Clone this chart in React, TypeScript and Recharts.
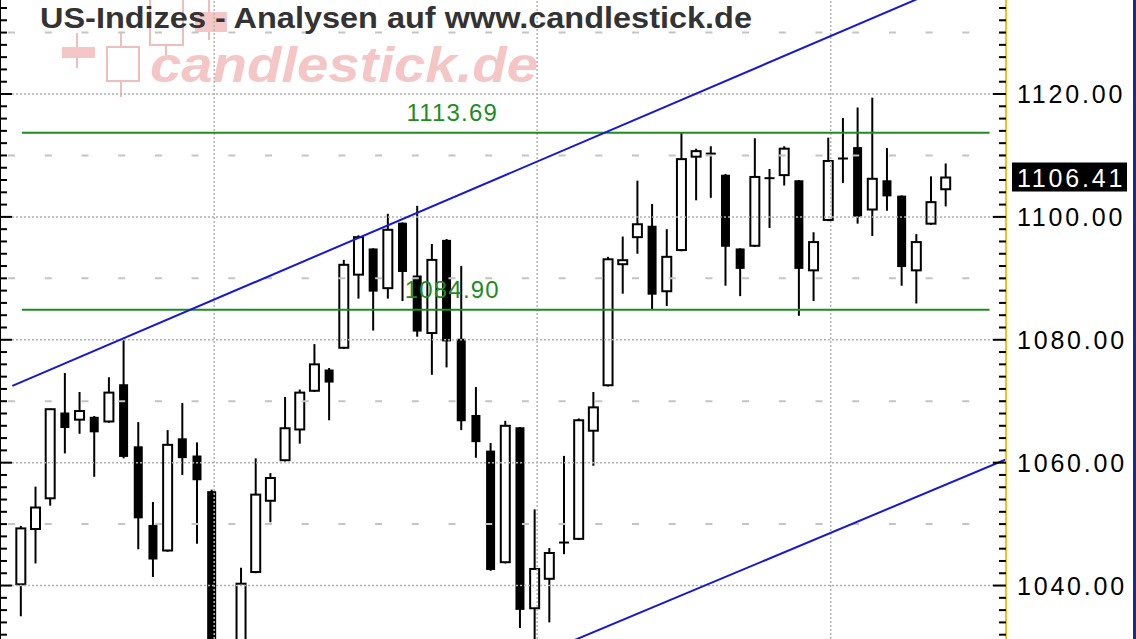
import React from 'react';
import {
  ComposedChart,
  Bar,
  XAxis,
  YAxis,
  ReferenceLine,
  ReferenceDot,
} from 'recharts';

// daily candles (index 14 lies below the visible range)
const opens = [
  1040.2, 1049.2, 1054.2, 1068.0, 1067.0, 1067.3, 1066.7, 1072.6, 1062.5, 1049.7,
  1045.7, 1063.8, 1061.0, 1055.2, null, 1028.0, 1042.2, 1053.8, 1060.4, 1065.4,
  1071.7, 1075.0, 1078.7, 1090.6, 1094.7, 1088.4, 1098.9, 1090.3, 1081.1, 1096.1,
  1080.0, 1067.6, 1061.8, 1043.8, 1065.6, 1036.3, 1041.1, 1046.8, 1047.6, 1065.2,
  1072.6, 1092.3, 1096.7, 1098.4, 1087.9, 1094.6, 1109.8, 1110.3, 1106.7, 1094.7,
  1095.3, 1106.0, 1106.8, 1105.8, 1091.3, 1099.5, 1109.3, 1111.2, 1101.2, 1105.8,
  1103.3, 1091.3, 1098.9, 1104.5,
];
const highs = [
  1049.7, 1056.1, 1068.8, 1074.6, 1071.5, 1067.6, 1073.9, 1079.9, 1066.6, 1053.6,
  1065.3, 1069.7, 1063.3, 1055.6, null, 1042.9, 1060.7, 1058.3, 1070.7, 1071.9,
  1079.3, 1075.4, 1093.0, 1097.0, 1094.9, 1100.5, 1099.1, 1101.8, 1095.6, 1096.4,
  1092.0, 1072.3, 1063.2, 1066.8, 1065.8, 1052.4, 1046.1, 1061.1, 1067.2, 1071.5,
  1093.5, 1096.8, 1105.9, 1102.1, 1098.0, 1113.7, 1111.1, 1111.5, 1107.0, 1094.9,
  1112.8, 1107.8, 1111.5, 1106.0, 1097.5, 1112.9, 1116.1, 1117.8, 1119.4, 1111.2,
  1103.5, 1097.2, 1106.6, 1108.7,
];
const lows = [
  1035.0, 1043.6, 1053.0, 1061.5, 1064.7, 1057.7, 1066.5, 1060.7, 1045.9, 1041.4,
  1045.5, 1058.0, 1046.8, 1026.0, null, 1025.0, 1042.0, 1050.3, 1060.2, 1063.1,
  1071.5, 1066.9, 1078.5, 1086.7, 1081.5, 1086.7, 1086.3, 1080.5, 1074.3, 1075.5,
  1065.3, 1060.8, 1042.4, 1043.6, 1033.1, 1029.0, 1034.0, 1045.1, 1047.4, 1059.5,
  1072.4, 1087.5, 1094.0, 1084.9, 1085.5, 1094.4, 1102.7, 1103.1, 1088.8, 1087.1,
  1095.1, 1098.2, 1105.1, 1083.9, 1086.3, 1099.3, 1105.5, 1098.9, 1096.9, 1101.0,
  1088.8, 1085.9, 1098.7, 1101.7,
];
const closes = [
  1049.3, 1052.7, 1068.7, 1065.8, 1068.4, 1065.1, 1071.4, 1061.1, 1051.1, 1044.4,
  1062.9, 1060.9, 1057.3, 1028.0, null, 1040.3, 1054.8, 1057.5, 1065.6, 1071.4,
  1076.0, 1073.2, 1092.2, 1096.7, 1088.0, 1097.9, 1091.2, 1081.5, 1093.0, 1079.9,
  1066.9, 1063.5, 1042.7, 1066.0, 1036.2, 1042.7, 1045.3, 1047.0, 1066.9, 1069.0,
  1093.1, 1092.95, 1098.8, 1087.5, 1093.5, 1109.4, 1110.7, 1110.2, 1095.3, 1091.7,
  1106.5, 1106.3, 1111.1, 1091.7, 1095.9, 1109.1, 1109.5, 1100.2, 1106.2, 1103.5,
  1092.0, 1095.9, 1102.4, 1106.41,
];

const lastClose = 1106.41;
const levels = [1113.69, 1084.9];
const labelTicks = [1040, 1060, 1080, 1100, 1120];
const halfLevels = [1050, 1070, 1090, 1110, 1130];
const monthStarts = [13, 35, 55];

// trend channel, endpoints as [candle index, price]
const upperChannel = [
  { x: -0.57, y: 1072.5 },
  { x: 62, y: 1136.4 },
];
const lowerChannel = [
  { x: 36, y: 1029.4 },
  { x: 68, y: 1061.4 },
];

const Y_DOMAIN: [number, number] = [1031.3, 1135.3];
const minorTicks = Array.from({ length: 52 }, (_, k) => 1032 + k * 2);

const candles = opens.map((o, i) => ({
  i,
  open: o,
  high: highs[i],
  low: lows[i],
  close: closes[i],
  range: o == null ? null : [lows[i], highs[i]],
}));

const GREEN = '#1f8c1f';
const BLUE = '#1818d0';
const FONT = "'Liberation Sans', Arial, sans-serif";

const Candle = (props: any) => {
  const { x, y, width, height, payload } = props;
  if (!payload || payload.open == null || !height) return <g />;
  const { open, high, low, close } = payload;
  const cx = x + width / 2;
  const ppu = height / (high - low);
  const yOf = (v: number) => y + (high - v) * ppu;
  const top = yOf(Math.max(open, close));
  const bottom = yOf(Math.min(open, close));
  const up = close >= open;
  const doji = Math.abs(close - open) < 0.4;
  return (
    <g>
      <line x1={cx} x2={cx} y1={y} y2={y + height} stroke="#000" strokeWidth={2} />
      {doji ? (
        <line x1={cx - 5} x2={cx + 5} y1={top} y2={top} stroke="#000" strokeWidth={2} />
      ) : up ? (
        <rect x={cx - 4.5} y={top} width={9} height={bottom - top} fill="#fff" stroke="#000" strokeWidth={2} />
      ) : (
        <rect x={cx - 4.5} y={top - 1} width={9} height={bottom - top + 2} fill="#000" />
      )}
    </g>
  );
};

const RightTick = (props: any) => {
  const { x, y, payload } = props;
  const major = labelTicks.includes(payload.value);
  return (
    <g>
      <line x1={x - (major ? 13 : 7)} x2={x} y1={y} y2={y} stroke="#000" strokeWidth={2} />
      {major && (
        <text
          x={x + 11}
          y={y}
          dominantBaseline="central"
          fontSize={25}
          letterSpacing={2.8}
          fontFamily={FONT}
          fill="#000"
        >
          {payload.value.toFixed(2)}
        </text>
      )}
    </g>
  );
};

const LeftTick = (props: any) => {
  const { x, y, payload } = props;
  const major = labelTicks.includes(payload.value);
  return <line x1={x} x2={x + (major ? 12 : 7)} y1={y} y2={y} stroke="#000" strokeWidth={2} />;
};

const PriceTag = (props: any) => {
  const vb = props.viewBox;
  if (!vb) return null;
  const x0 = vb.x + vb.width + 6;
  return (
    <g>
      <rect x={x0} y={vb.y - 15} width={115} height={29} fill="#000" />
      <text
        x={x0 + 5}
        y={vb.y}
        dominantBaseline="central"
        fontSize={25}
        letterSpacing={2.8}
        fontFamily={FONT}
        fill="#fff"
      >
        {lastClose.toFixed(2)}
      </text>
    </g>
  );
};

const levelLabel = (value: number) => (props: any) => {
  const vb = props.viewBox;
  if (!vb) return null;
  return (
    <text
      x={vb.x + vb.width / 2}
      y={vb.y - 12}
      textAnchor="middle"
      fontSize={24}
      letterSpacing={1.2}
      fontFamily={FONT}
      fill={GREEN}
    >
      {value.toFixed(2)}
    </text>
  );
};

const Watermark = () => (
  <svg width={1136} height={639} style={{ position: 'absolute', left: 0, top: 0 }}>
    <g fill="#f4c6c6" stroke="#f1bcbc">
      <line x1={77} x2={77} y1={33} y2={68} strokeWidth={2} />
      <rect x={62} y={47} width={33} height={11} strokeWidth={0} />
      <line x1={121} x2={121} y1={33} y2={97} strokeWidth={2} />
      <rect x={107} y={47} width={32} height={34} fill="#fff" strokeWidth={2} />
      <line x1={166} x2={166} y1={0} y2={55} strokeWidth={2} />
      <rect x={150} y={-4} width={33} height={49} fill="#fff" strokeWidth={2} />
      <line x1={209} x2={209} y1={0} y2={40} strokeWidth={2} />
      <rect x={195} y={12} width={32} height={20} strokeWidth={0} />
    </g>
    <text
      x={150}
      y={82}
      fontSize={50}
      fontStyle="italic"
      fontWeight="bold"
      fontFamily={FONT}
      fill="#f4c6c6"
      textLength={388}
      lengthAdjust="spacingAndGlyphs"
    >
      candlestick.de
    </text>
  </svg>
);

const Title = () => (
  <svg width={1136} height={639} style={{ position: 'absolute', left: 0, top: 0, pointerEvents: 'none' }}>
    <text
      x={40}
      y={28}
      fontSize={30}
      fontWeight="bold"
      fontFamily="'Liberation Sans Narrow', 'Liberation Sans', Arial, sans-serif"
      fill="#333"
      textLength={712}
      lengthAdjust="spacingAndGlyphs"
    >
      US-Indizes - Analysen auf www.candlestick.de
    </text>
    <rect x={1133} y={0} width={3} height={639} fill="#1c2a8c" />
  </svg>
);

export default function App() {
  return (
    <div style={{ position: 'relative', width: 1136, height: 639, background: '#fff', overflow: 'hidden' }}>
      <style>{'body{margin:0}'}</style>
      <Watermark />
      <div style={{ position: 'absolute', left: 0, top: 0 }}>
        <ComposedChart width={1136} height={639} data={candles} margin={{ top: 0, right: 0, bottom: 0, left: 0 }}>
          <XAxis xAxisId="c" dataKey="i" type="category" hide padding={{ left: 13.36, right: 53.1 }} />
          <XAxis
            xAxisId="n"
            dataKey="i"
            type="number"
            domain={['dataMin', 'dataMax']}
            padding={{ left: 20.7, right: 60.5 }}
            hide
          />
          <YAxis
            yAxisId="r"
            orientation="right"
            width={130}
            domain={Y_DOMAIN}
            allowDataOverflow
            ticks={minorTicks}
            interval={0}
            tickSize={0}
            tickMargin={0}
            tickLine={false}
            axisLine={{ stroke: '#f2c21b', strokeWidth: 2 }}
            tick={<RightTick />}
          />
          <YAxis
            yAxisId="l"
            orientation="left"
            mirror
            domain={Y_DOMAIN}
            allowDataOverflow
            ticks={minorTicks}
            interval={0}
            tickSize={0}
            tickMargin={0}
            tickLine={false}
            axisLine={{ stroke: '#000', strokeWidth: 2 }}
            tick={<LeftTick />}
          />

          {labelTicks.map((v) => (
            <ReferenceLine key={'g' + v} xAxisId="n" yAxisId="r" y={v} stroke="#b0b0b0" strokeWidth={1.5} strokeDasharray="2 2" />
          ))}
          {halfLevels.map((v) => (
            <ReferenceLine key={'h' + v} xAxisId="n" yAxisId="r" y={v} stroke="#c4c4c4" strokeWidth={2} strokeDasharray="7 29.7" />
          ))}
          {monthStarts.map((m) => (
            <ReferenceLine key={'m' + m} xAxisId="n" yAxisId="r" x={m + 0.18} stroke="#b4b4b4" strokeWidth={1.5} strokeDasharray="2 2" />
          ))}

          {levels.map((v) => (
            <ReferenceLine
              key={'s' + v}
              xAxisId="n"
              yAxisId="r"
              segment={[{ x: 0.08, y: v }, { x: 66, y: v }]}
              stroke={GREEN}
              strokeWidth={2}
              ifOverflow="visible"
            />
          ))}
          {levels.map((v) => (
            <ReferenceDot
              key={'l' + v}
              xAxisId="n"
              yAxisId="r"
              x={29.4}
              y={v}
              r={0}
              fill="none"
              stroke="none"
              label={levelLabel(v)}
            />
          ))}

          <ReferenceLine xAxisId="n" yAxisId="r" segment={upperChannel} stroke={BLUE} strokeWidth={2} ifOverflow="hidden" />
          <ReferenceLine xAxisId="n" yAxisId="r" segment={lowerChannel} stroke={BLUE} strokeWidth={2} ifOverflow="hidden" />

          <Bar xAxisId="c" yAxisId="r" dataKey="range" shape={<Candle />} isAnimationActive={false} />

          <ReferenceLine
            xAxisId="n"
            yAxisId="r"
            y={lastClose}
            stroke="none"
            ifOverflow="visible"
            label={(p: any) => <PriceTag {...p} />}
          />
        </ComposedChart>
      </div>
      <Title />
    </div>
  );
}
